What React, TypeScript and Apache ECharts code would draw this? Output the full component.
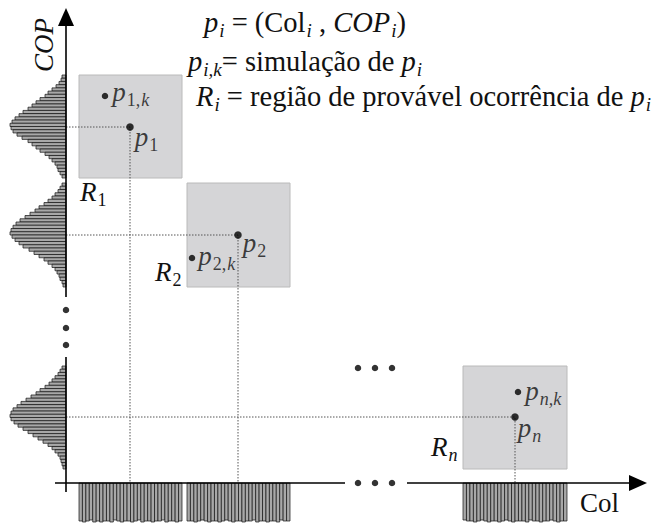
import React, { useEffect, useRef } from 'react';
import * as echarts from 'echarts';

const FONT = 'Liberation Serif';

// Regions R_i: Col range and COP range
const regionCol = [[13, 116], [121, 224], [397, 501]];
const regionCop = [[305, 408], [196, 300], [14, 117]];

// Observed points p_i and simulated points p_i,k
const pointCol = [64, 172, 449];
const pointCop = [356, 248, 66];
const simCol = [39, 126, 452];
const simCop = [387, 225, 91];

// COP histograms (top bin first), bar lengths
const copFreq1 = [4, 5, 7, 10, 14, 18, 21, 26, 30, 34, 38, 43, 47, 51, 54, 56, 55, 53, 49, 44, 38, 34, 30, 26, 21, 17, 14, 11, 9, 8, 6, 4];
const copFreq2 = [4, 6, 8, 11, 14, 18, 22, 27, 31, 36, 41, 46, 50, 53, 55, 56, 54, 51, 47, 43, 37, 32, 27, 22, 18, 14, 11, 9, 7, 6, 4, 3];
const copFreq3 = [4, 6, 8, 11, 14, 17, 21, 26, 30, 35, 40, 45, 49, 53, 55, 56, 55, 52, 48, 43, 38, 33, 28, 23, 18, 14, 11, 8, 6, 5, 4, 3];

// Col histograms (left bin first), bar depths
const colFreq1 = [38, 39, 38, 37, 39, 38, 39, 38, 38, 39, 37, 38, 39, 38, 38, 39, 38, 37, 39, 38, 38, 39, 38, 38, 37, 39, 38, 38, 39, 38];
const colFreq2 = [38, 38, 39, 38, 37, 38, 39, 38, 38, 39, 38, 37, 38, 39, 38, 38, 39, 38, 38, 37, 39, 38, 38, 39, 38, 38, 39, 37, 38, 38];
const colFreq3 = [37, 38, 38, 39, 38, 37, 38, 39, 38, 38, 39, 38, 37, 38, 39, 38, 38, 38, 39, 37, 38, 38, 39, 38, 38, 37, 38, 39, 38, 38];

// Axis pieces (data units)
const copAxisSegments = [[-9, 126], [186, 458]];
const copArrowTip = 475;
const colAxisSegments = [[-11, 279], [341, 564]];
const colArrowTip = 581;
const ellipsisCop = [173, 155, 138];
const ellipsisCol = [292, 309, 326];
const ellipsisMidCop = 115;

const makeRich = (fs: number, sfs: number, lh: number): any => ({
  i: { fontFamily: FONT, fontStyle: 'italic', fontSize: fs, color: '#111', lineHeight: lh },
  r: { fontFamily: FONT, fontSize: fs, color: '#111', lineHeight: lh },
  si: { fontFamily: FONT, fontStyle: 'italic', fontSize: sfs, color: '#111', lineHeight: sfs, padding: [lh - sfs, 0, 0, 1] },
  sr: { fontFamily: FONT, fontSize: sfs, color: '#111', lineHeight: sfs, padding: [lh - sfs, 0, 0, 1] },
});
const rich = makeRich(27, 18, 34);
const richBig = makeRich(28.5, 19, 36);

const pointLabels = ['{i|p}{sr|1}', '{i|p}{sr|2}', '{i|p}{si|n}'];
const simLabels = ['{i|p}{sr|1,}{si|k}', '{i|p}{sr|2,}{si|k}', '{i|p}{si|n,k}'];
const pointLabelOffsets = [[1, 10], [1, 8], [-1, 11]];
const simLabelOffsets = [[4, -4], [3, -2], [4, -1]];

function App() {
  const ref = useRef<HTMLDivElement>(null);
  useEffect(() => {
    if (!ref.current) return;
    const chart = echarts.init(ref.current, null, { renderer: 'svg' });

    const copHists = [copFreq1, copFreq2, copFreq3];
    const copBars: number[][] = [];
    copHists.forEach((f, k) => {
      const [lo, hi] = regionCop[k];
      const h = (hi - lo) / f.length;
      f.forEach((v, i) => copBars.push([hi - (i + 1) * h, hi - i * h, v]));
    });
    const colHists = [colFreq1, colFreq2, colFreq3];
    const colBars: number[][] = [];
    colHists.forEach((f, k) => {
      const [lo, hi] = regionCol[k];
      const w = (hi - lo) / f.length;
      f.forEach((v, i) => colBars.push([lo + i * w, lo + (i + 1) * w, v]));
    });

    const axisLines: number[][] = [];
    copAxisSegments.forEach(([a, b]) => axisLines.push([0, a, 0, b]));
    colAxisSegments.forEach(([a, b]) => axisLines.push([a, 0, b, 0]));

    const dots: number[][] = [];
    ellipsisCop.forEach((c) => dots.push([0, c]));
    ellipsisCol.forEach((c) => dots.push([c, 0]));
    ellipsisCol.forEach((c) => dots.push([c, ellipsisMidCop]));

    const txt = (x: number, y: number, text: string, r: any, extra: any = {}) => ({
      type: 'text', x, y, z: 10,
      style: { text, rich: r, fontFamily: FONT, fontSize: 27, fill: '#111', align: 'left', textAlign: 'left', verticalAlign: 'middle', textVerticalAlign: 'middle', ...extra },
    });

    const option: any = {
      animation: false,
      textStyle: { fontFamily: FONT },
      grid: { left: 0, right: 0, top: 0, bottom: 0 },
      xAxis: { type: 'value', min: -66, max: 591, show: false },
      yAxis: { type: 'value', min: -40, max: 483, show: false },
      series: [
        {
          type: 'custom', z: 1, silent: true,
          data: regionCol.map((c, i) => [c[0], c[1], regionCop[i][0], regionCop[i][1]]),
          renderItem: (p: any, api: any) => {
            const a = api.coord([api.value(0), api.value(3)]);
            const b = api.coord([api.value(1), api.value(2)]);
            return { type: 'rect', shape: { x: a[0], y: a[1], width: b[0] - a[0], height: b[1] - a[1] }, style: { fill: '#d5d5d7', stroke: '#bababa', lineWidth: 1 } };
          },
        },
        {
          type: 'custom', z: 2, silent: true,
          data: pointCol.map((c, i) => [c, pointCop[i]]),
          renderItem: (p: any, api: any) => {
            const x = api.value(0), y = api.value(1);
            return {
              type: 'polyline',
              shape: { points: [api.coord([0, y]), api.coord([x, y]), api.coord([x, 0])] },
              style: { stroke: '#555', lineWidth: 1, lineDash: [1.5, 1.5], fill: null },
            };
          },
        },
        {
          type: 'custom', z: 3, silent: true,
          data: copBars,
          renderItem: (p: any, api: any) => {
            const a = api.coord([-api.value(2), api.value(1)]);
            const b = api.coord([0, api.value(0)]);
            return { type: 'rect', shape: { x: a[0], y: a[1], width: b[0] - a[0], height: b[1] - a[1] }, style: { fill: '#a8a8a8', stroke: '#111', lineWidth: 0.7 } };
          },
        },
        {
          type: 'custom', z: 3, silent: true,
          data: colBars,
          renderItem: (p: any, api: any) => {
            const a = api.coord([api.value(0), 0]);
            const b = api.coord([api.value(1), -api.value(2)]);
            return { type: 'rect', shape: { x: a[0], y: a[1], width: b[0] - a[0], height: b[1] - a[1] }, style: { fill: '#a8a8a8', stroke: '#111', lineWidth: 0.7 } };
          },
        },
        {
          type: 'custom', z: 4, silent: true,
          data: axisLines,
          renderItem: (p: any, api: any) => {
            const a = api.coord([api.value(0), api.value(1)]);
            const b = api.coord([api.value(2), api.value(3)]);
            return { type: 'line', shape: { x1: a[0], y1: a[1], x2: b[0], y2: b[1] }, style: { stroke: '#000', lineWidth: 1.6 } };
          },
        },
        {
          type: 'custom', z: 4, silent: true,
          data: [[0, copArrowTip, 0], [colArrowTip, 0, 1]],
          renderItem: (p: any, api: any) => {
            const t = api.coord([api.value(0), api.value(1)]);
            const horiz = api.value(2) === 1;
            const L = 18, W = 8;
            const pts = horiz
              ? [[t[0], t[1]], [t[0] - L, t[1] - W], [t[0] - L, t[1] + W]]
              : [[t[0], t[1]], [t[0] - W, t[1] + L], [t[0] + W, t[1] + L]];
            return { type: 'polygon', shape: { points: pts }, style: { fill: '#000' } };
          },
        },
        {
          type: 'scatter', z: 5, silent: true,
          symbol: 'circle', symbolSize: 6.5,
          itemStyle: { color: '#000' },
          data: dots,
        },
        {
          type: 'scatter', z: 6, silent: true,
          symbol: 'circle', symbolSize: 7.5,
          itemStyle: { color: '#000' },
          data: pointCol.map((c, i) => ({
            value: [c, pointCop[i]],
            label: { show: true, position: 'right', distance: 0, offset: pointLabelOffsets[i], formatter: pointLabels[i], rich, fontFamily: FONT },
          })),
        },
        {
          type: 'scatter', z: 6, silent: true,
          symbol: 'circle', symbolSize: 6.5,
          itemStyle: { color: '#000' },
          data: simCol.map((c, i) => ({
            value: [c, simCop[i]],
            label: { show: true, position: 'right', distance: 0, offset: simLabelOffsets[i], formatter: simLabels[i], rich, fontFamily: FONT },
          })),
        },
      ],
      graphic: [
        txt(204, 22, '{i|p}{si|i}{r| = (Col}{si|i}{r| , }{i|COP}{si|i}{r|)}', richBig),
        txt(188, 61, '{i|p}{si|i,k}{r|= simulação de }{i|p}{si|i}', richBig),
        txt(196, 96, '{i|R}{si|i}{r| = região de provável ocorrência de }{i|p}{si|i}', richBig),
        txt(80, 192, '{i|R}{sr|1}', rich),
        txt(155, 272, '{i|R}{sr|2}', rich),
        txt(431, 447, '{i|R}{si|n}', rich),
        txt(580, 503, '{r|Col}', rich),
        { ...txt(44, 45, '{i|COP}', rich, { align: 'center', textAlign: 'center' }), rotation: Math.PI / 2 },
      ],
    };
    chart.setOption(option);
    return () => chart.dispose();
  }, []);
  return <div ref={ref} style={{ position: 'fixed', left: 0, top: 0, width: 657, height: 523, background: '#fff' }} />;
}

export default App;
